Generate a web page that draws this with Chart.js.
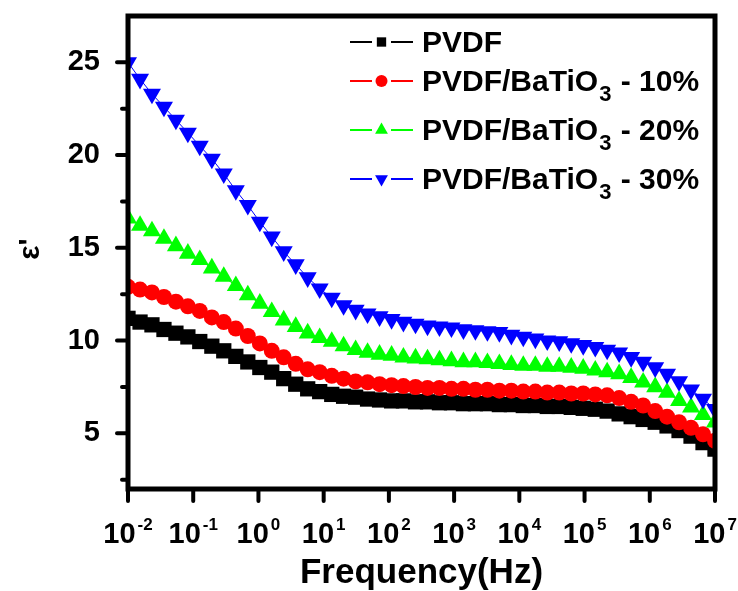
<!DOCTYPE html>
<html>
<head>
<meta charset="utf-8">
<script src="https://cdn.jsdelivr.net/npm/chart.js@4.4.1/dist/chart.umd.min.js"></script>
<style>
html,body{margin:0;padding:0;background:#fff;}
#wrap{width:738px;height:591px;}
</style>
</head>
<body>
<div id="wrap"><canvas id="c" width="738" height="591"></canvas></div>
<script>
// measured frequencies (Hz)
const freq = [
  0.01, 0.0153, 0.0233, 0.0356, 0.0543, 0.0828, 0.126, 0.193, 0.294, 0.450,
  0.687, 1.05, 1.60, 2.44, 3.73, 5.69, 8.69, 13.3, 20.2, 30.9,
  47.1, 71.9, 110, 167, 256, 391, 596, 910, 1390, 2120,
  3240, 4940, 7540, 11500, 17600, 26800, 40900, 62500, 95400, 146000,
  222000, 339000, 518000, 791000, 1210000, 1840000, 2810000, 4290000, 6550000, 10000000
];
// real permittivity for each sample
const pvdf = [
  11.2, 11.0, 10.85, 10.6, 10.4, 10.2, 9.95, 9.7, 9.45, 9.15,
  8.85, 8.55, 8.3, 7.95, 7.65, 7.4, 7.25, 7.1, 7.0, 6.95,
  6.85, 6.8, 6.75, 6.75, 6.7, 6.7, 6.65, 6.65, 6.6, 6.6,
  6.6, 6.55, 6.55, 6.5, 6.5, 6.45, 6.45, 6.4, 6.35, 6.3,
  6.2, 6.05, 5.9, 5.75, 5.6, 5.4, 5.15, 4.85, 4.5, 4.15
];
const bt10 = [
  12.9, 12.75, 12.6, 12.35, 12.1, 11.85, 11.6, 11.25, 11.0, 10.65,
  10.25, 9.85, 9.45, 9.1, 8.75, 8.45, 8.3, 8.1, 7.95, 7.8,
  7.75, 7.65, 7.6, 7.55, 7.5, 7.45, 7.45, 7.4, 7.4, 7.35,
  7.35, 7.3, 7.3, 7.25, 7.25, 7.2, 7.2, 7.15, 7.15, 7.1,
  7.05, 6.9, 6.7, 6.5, 6.2, 5.9, 5.6, 5.3, 4.95, 4.6
];
const bt20 = [
  16.6, 16.2, 15.9, 15.5, 15.1, 14.7, 14.35, 13.9, 13.45, 12.95,
  12.45, 12.0, 11.55, 11.1, 10.75, 10.4, 10.15, 9.95, 9.7, 9.5,
  9.35, 9.25, 9.2, 9.1, 9.05, 9.0, 8.95, 8.9, 8.85, 8.85,
  8.8, 8.75, 8.7, 8.65, 8.65, 8.6, 8.6, 8.55, 8.5, 8.4,
  8.3, 8.2, 8.0, 7.75, 7.5, 7.2, 6.75, 6.4, 6.0, 5.6
];
const bt30 = [
  25.0, 24.1, 23.3, 22.6, 21.9, 21.2, 20.5, 19.8, 19.0, 18.1,
  17.3, 16.4, 15.6, 14.8, 14.1, 13.4, 12.8, 12.3, 11.9, 11.65,
  11.45, 11.3, 11.15, 11.0, 10.9, 10.8, 10.75, 10.7, 10.6, 10.55,
  10.5, 10.45, 10.3, 10.2, 10.1, 10.0, 9.95, 9.85, 9.75, 9.65,
  9.5, 9.35, 9.1, 8.85, 8.55, 8.2, 7.8, 7.35, 6.85, 6.3
];
const seriesNames = ['PVDF', 'PVDF/BaTiO₃ - 10%', 'PVDF/BaTiO₃ - 20%', 'PVDF/BaTiO₃ - 30%'];
const xTicks = [1e-2, 1e-1, 1, 1e1, 1e2, 1e3, 1e4, 1e5, 1e6, 1e7];
const xTickExp = ['-2', '-1', '0', '1', '2', '3', '4', '5', '6', '7'];
const yTicks = [2.5, 5, 7.5, 10, 12.5, 15, 17.5, 20, 22.5, 25];

const FONT = '"Liberation Sans", Arial, sans-serif';
const styles = [
  {color: '#000000', shape: 'rect', r: 10.8, rot: 0, lr: 6.6},
  {color: '#ff0000', shape: 'circle', r: 8, rot: 0, lr: 6},
  {color: '#00ff00', shape: 'triangle', r: 10.4, rot: 0, lr: 7.4},
  {color: '#0000ff', shape: 'triangle', r: 10.4, rot: 180, lr: 7.4}
];
const series = [pvdf, bt10, bt20, bt30];

function marker(ctx, shape, x, y, r, rot) {
  ctx.beginPath();
  if (shape === 'rect') {
    const s = r * Math.SQRT1_2;
    ctx.rect(x - s, y - s, 2 * s, 2 * s);
  } else if (shape === 'circle') {
    ctx.arc(x, y, r, 0, Math.PI * 2);
  } else {
    const d = rot ? -1 : 1;
    ctx.moveTo(x, y - d * r);
    ctx.lineTo(x + r * 0.866, y + d * r * 0.5);
    ctx.lineTo(x - r * 0.866, y + d * r * 0.5);
    ctx.closePath();
  }
  ctx.fill();
}

// frame, ticks, tick labels, titles and legend
const decor = {
  id: 'decor',
  afterDatasetsDraw(chart) {
    const {ctx, chartArea: a, scales: {x, y}} = chart;
    ctx.save();
    ctx.strokeStyle = '#000';
    ctx.fillStyle = '#000';
    ctx.lineWidth = 5;
    ctx.strokeRect(a.left, a.top, a.right - a.left, a.bottom - a.top);

    ctx.lineWidth = 4;
    ctx.lineCap = 'round';
    ctx.beginPath();
    y.ticks.forEach(t => {
      const py = y.getPixelForValue(t.value);
      ctx.moveTo(a.left, py);
      ctx.lineTo(a.left - (t.label ? 11 : 6), py);
    });
    x.ticks.forEach(t => {
      const px = x.getPixelForValue(t.value);
      ctx.moveTo(px, a.bottom);
      ctx.lineTo(px, a.bottom + 12);
    });
    ctx.stroke();

    // x tick labels 10^n
    ctx.textBaseline = 'alphabetic';
    ctx.textAlign = 'left';
    xTicks.forEach((v, i) => {
      const px = x.getPixelForValue(v);
      ctx.font = 'bold 29px ' + FONT;
      const wb = ctx.measureText('10').width;
      ctx.font = 'bold 17px ' + FONT;
      const we = ctx.measureText(xTickExp[i]).width;
      const x0 = px - (wb + 2 + we) / 2;
      ctx.font = 'bold 29px ' + FONT;
      ctx.fillText('10', x0, 543);
      ctx.font = 'bold 17px ' + FONT;
      ctx.fillText(xTickExp[i], x0 + wb + 2, 530);
    });

    // axis titles
    ctx.font = 'bold 35px ' + FONT;
    ctx.textAlign = 'center';
    ctx.fillText('Frequency(Hz)', (a.left + a.right) / 2, 583);
    ctx.save();
    ctx.translate(31, 249);
    ctx.rotate(-Math.PI / 2);
    ctx.font = 'bold 30px ' + FONT;
    ctx.textBaseline = 'middle';
    ctx.fillText("ε'", 0, 0);
    ctx.restore();

    // legend
    const rows = [52, 91, 140, 189];
    ctx.textAlign = 'left';
    ctx.textBaseline = 'alphabetic';
    chart.data.datasets.forEach((ds, k) => {
      const st = styles[k];
      const by = rows[k], my = by - 10;
      ctx.strokeStyle = st.color;
      ctx.fillStyle = st.color;
      ctx.lineWidth = 2;
      ctx.lineCap = 'butt';
      ctx.beginPath();
      ctx.moveTo(350, my);
      ctx.lineTo(372, my);
      ctx.moveTo(391, my);
      ctx.lineTo(413, my);
      ctx.stroke();
      marker(ctx, st.shape, 381.5, my, st.lr, st.rot);
      ctx.fillStyle = '#000';
      const parts = ds.label.split('₃');
      let tx = 422;
      ctx.font = 'bold 30px ' + FONT;
      ctx.fillText(parts[0], tx, by);
      tx += ctx.measureText(parts[0]).width;
      if (parts.length > 1) {
        ctx.font = 'bold 22px ' + FONT;
        ctx.fillText('3', tx + 1, by + 10);
        tx += ctx.measureText('3').width + 2;
        ctx.font = 'bold 30px ' + FONT;
        ctx.fillText(parts[1], tx, by);
      }
    });
    ctx.restore();
  }
};

new Chart(document.getElementById('c'), {
  type: 'line',
  data: {
    datasets: series.map((vals, k) => ({
      label: seriesNames[k],
      data: freq.map((f, i) => ({x: f, y: vals[i]})),
      borderColor: styles[k].color,
      backgroundColor: styles[k].color,
      borderWidth: 1,
      pointStyle: styles[k].shape,
      pointRadius: styles[k].r,
      pointRotation: styles[k].rot,
      pointBorderWidth: 0,
      pointHoverRadius: styles[k].r,
      order: 4 - k,
      clip: 0
    }))
  },
  options: {
    responsive: false,
    animation: false,
    devicePixelRatio: 1,
    events: [],
    layout: {padding: {top: 16, right: 23, left: 0, bottom: 0}},
    plugins: {legend: {display: false}, tooltip: {enabled: false}},
    scales: {
      x: {
        type: 'logarithmic',
        min: 0.01,
        max: 1e7,
        grid: {display: false, drawTicks: false},
        border: {display: false},
        ticks: {display: false},
        afterBuildTicks: s => { s.ticks = xTicks.map(v => ({value: v})); },
        afterFit: s => { s.height = 102; s.paddingLeft = 0; s.paddingRight = 0; }
      },
      y: {
        min: 2,
        max: 27.5,
        grid: {display: false, drawTicks: false},
        border: {display: false},
        ticks: {
          autoSkip: false,
          padding: 28,
          color: '#000',
          font: {family: FONT, size: 29, weight: 'bold'},
          callback: v => (v % 5 === 0 ? String(v) : '')
        },
        afterBuildTicks: s => { s.ticks = yTicks.map(v => ({value: v})); },
        afterFit: s => { s.width = 128; s.paddingTop = 0; s.paddingBottom = 0; }
      }
    }
  },
  plugins: [decor]
});
</script>
</body>
</html>
